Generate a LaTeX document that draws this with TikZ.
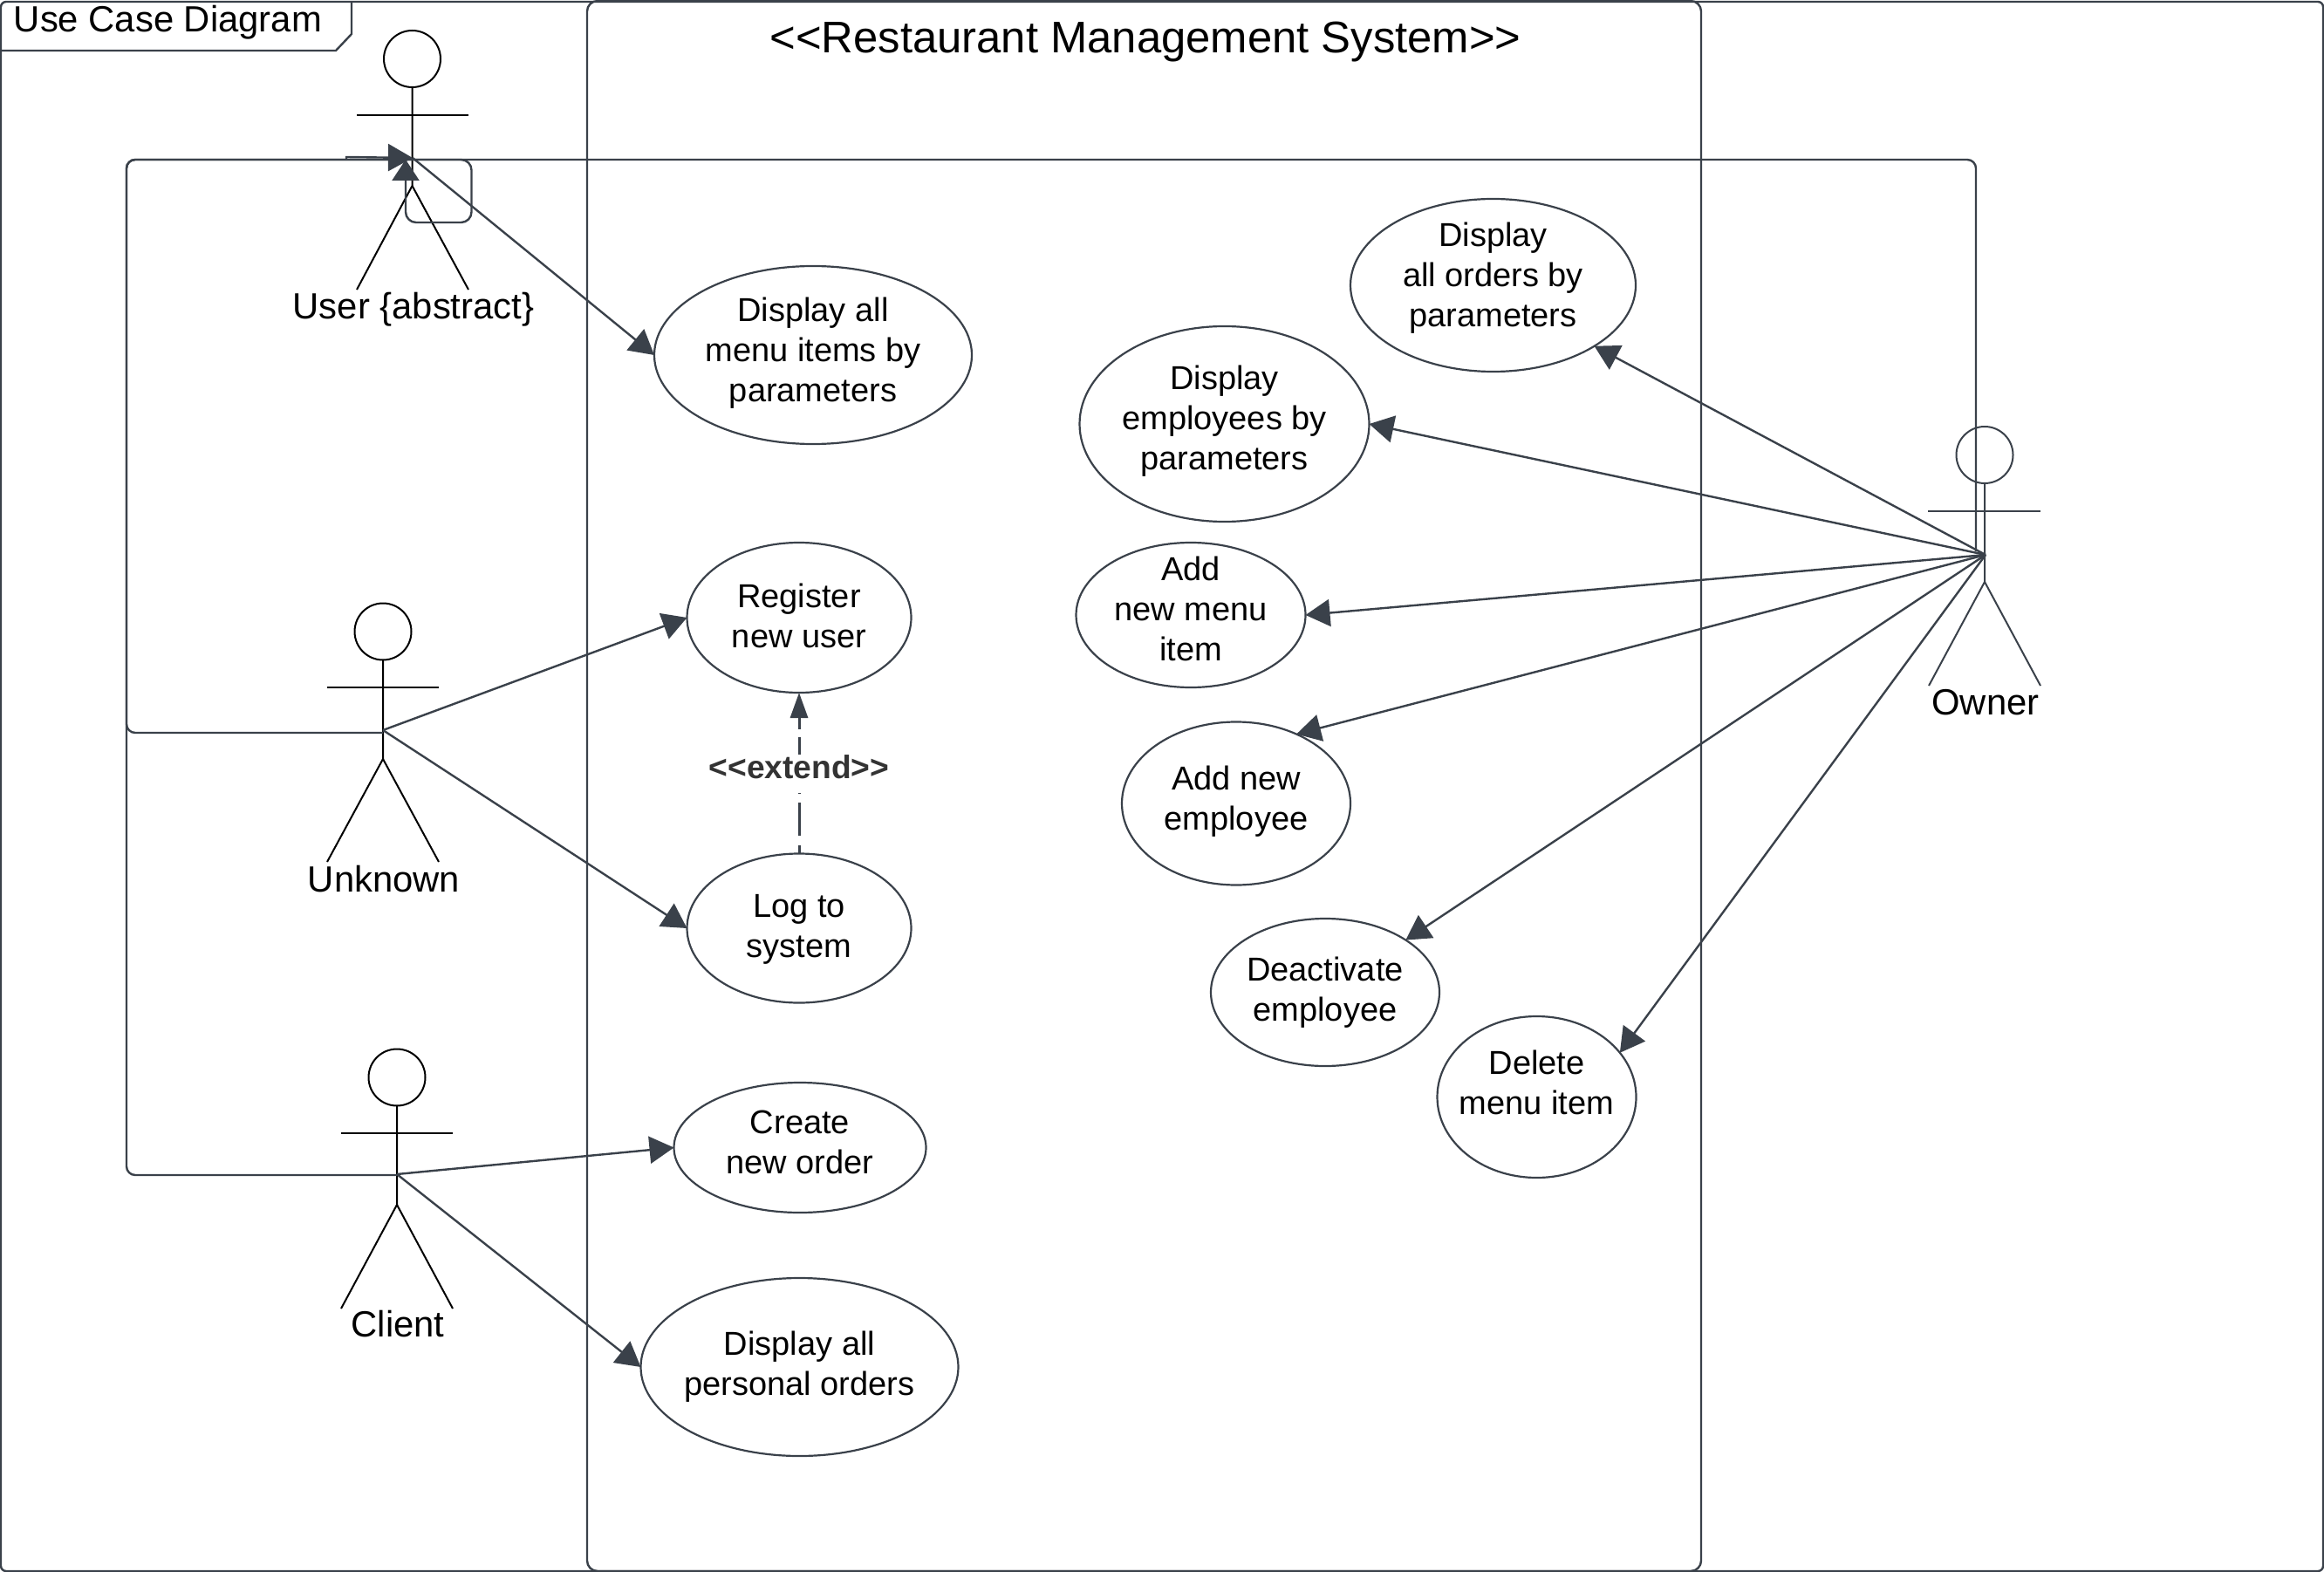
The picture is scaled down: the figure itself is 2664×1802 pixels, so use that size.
\documentclass[tikz,border=0pt]{standalone}
\usepackage{fontspec}
\setmainfont{Liberation Sans}
\usetikzlibrary{arrows.meta,shapes.geometric}

\definecolor{linecol}{HTML}{3A414A}
\definecolor{extcol}{HTML}{333333}

\tikzset{
  frameline/.style={draw=linecol, line width=1.2pt},
  usecase/.style={ellipse, draw=linecol, line width=1.1pt, inner sep=0pt, outer sep=0pt},
  casetext/.style={align=center, inner sep=0pt, font=\fontsize{19}{23}\selectfont},
  head/.style={circle, draw, line width=1pt, minimum size=32.5pt, inner sep=0pt, outer sep=0pt},
  actor/.style={draw, line width=1pt},
  actorlabel/.style={font=\fontsize{20.9}{25}\selectfont, inner sep=0pt},
  wire/.style={draw=linecol, line width=1.2pt},
  routed/.style={wire, rounded corners=5pt},
  link/.style={wire, -{Triangle[length=14pt,width=15.5pt]}},
  extendlink/.style={wire, line width=1.5pt, -{Triangle[length=14.5pt,width=10pt]}}
}

\begin{document}
\begin{tikzpicture}[x=0.5pt,y=-0.5pt]
  \useasboundingbox (0,0) rectangle (2664,1802);

  % frames
  \draw[frameline, rounded corners=3pt] (1,2) rectangle (2663,1801);
  \draw[frameline] (1,58) -- (385,58) -- (403,39) -- (403,2);
  \node[anchor=west, inner sep=0pt, font=\fontsize{20.9}{25}\selectfont] (frametitle) at (15.5,26) {Use Case Diagram};
  \draw[frameline, rounded corners=6pt] (673,1) rectangle (1950,1801);
  \node[font=\fontsize{25.4}{30}\selectfont, inner sep=0pt] (systemtitle) at (1313,48) {<{}<Restaurant Management System>{}>};

  % actors
  \node[head] (userhead) at (472.5,67.5) {};
  \draw[actor] (userhead.south) -- (472.5,213) -- (409,332);
  \draw[actor] (472.5,213) -- (537,332);
  \draw[actor] (409,132) -- (537,132);
  \node[actorlabel] (userlabel) at (474,355) {User \{abstract\}};

  \node[head] (unknownhead) at (439,724) {};
  \draw[actor] (unknownhead.south) -- (439,870) -- (375,988);
  \draw[actor] (439,870) -- (503,988);
  \draw[actor] (375,788) -- (503,788);
  \node[actorlabel] (unknownlabel) at (440,1008) {Unknown};

  \node[head] (clienthead) at (455,1235) {};
  \draw[actor] (clienthead.south) -- (455,1381) -- (391,1500);
  \draw[actor] (455,1381) -- (519,1500);
  \draw[actor] (391,1299) -- (519,1299);
  \node[actorlabel] (clientlabel) at (456,1518) {Client};

  \node[head, draw=linecol] (ownerhead) at (2275,521.5) {};
  \draw[actor, draw=linecol] (ownerhead.south) -- (2275,667) -- (2211,786);
  \draw[actor, draw=linecol] (2275,667) -- (2339,786);
  \draw[actor, draw=linecol] (2210,586) -- (2339,586);
  \node[actorlabel] (ownerlabel) at (2276,805) {Owner};

  \coordinate (userhub) at (473,181);
  \coordinate (userbase) at (465,183);
  \coordinate (userjoin) at (473,183);
  \coordinate (userstep) at (397,183);
  \coordinate (unknownhub) at (439,837);
  \coordinate (unknownbase) at (439,840);
  \coordinate (clienthub) at (455,1346);
  \coordinate (clientbase) at (455,1347);
  \coordinate (ownerhub) at (2276,636);
  \coordinate (ownerbase) at (2265,632);

  % use cases
  \node[usecase, minimum width=182pt, minimum height=102pt, label={[casetext,yshift=1pt]center:Display all\\menu items by\\parameters}] (menuitems) at (932,407) {};
  \node[usecase, minimum width=128.5pt, minimum height=86pt, label={[casetext,yshift=.8pt]center:Register\\new user}] (register) at (916,708) {};
  \node[usecase, minimum width=128.5pt, minimum height=85.5pt, label={[casetext,yshift=-.9pt]center:Log to\\system}] (login) at (916,1064) {};
  \node[usecase, minimum width=144.5pt, minimum height=74.5pt, label={[casetext,yshift=2.9pt]center:Create\\new order}] (neworder) at (917,1315.5) {};
  \node[usecase, minimum width=182pt, minimum height=102pt, label={[casetext]center:Display all\\personal orders}] (personal) at (916.5,1567) {};
  \node[usecase, minimum width=163.5pt, minimum height=99pt, label={[casetext,yshift=4.2pt]center:Display\\all orders by\\parameters}] (orders) at (1711.5,327) {};
  \node[usecase, minimum width=166pt, minimum height=112pt, label={[casetext,yshift=1.7pt]center:Display\\employees by\\parameters}] (employees) at (1403.5,486) {};
  \node[usecase, minimum width=131.5pt, minimum height=83pt, label={[casetext,yshift=3.6pt]center:Add\\new menu\\item}] (addmenu) at (1365,705) {};
  \node[usecase, minimum width=131pt, minimum height=93.5pt, label={[casetext,yshift=1.3pt]center:Add new\\employee}] (addemployee) at (1417,921) {};
  \node[usecase, minimum width=131pt, minimum height=84.5pt, label={[casetext]center:Deactivate\\employee}] (deactivate) at (1519,1137.5) {};
  \node[usecase, minimum width=114pt, minimum height=92.5pt, label={[casetext,yshift=8.5pt]center:Delete\\menu item}] (deleteitem) at (1761.5,1257.5) {};

  % generalization
  \draw[routed] (unknownbase) -- (145,840) -- (145,183) -- (userjoin);
  \draw[routed] (clientbase) -- (145,1347) -- (145,183) -- (userjoin);
  \draw[routed] (ownerbase) -- (2265,183) -- (userjoin);
  \draw[link] (userstep) -- (397,180) -- (userhub);
  \draw[routed, rounded corners=6pt, -{Triangle[length=12pt,width=15.5pt]}] (userjoin) -- (540.5,183) -- (540.5,255) -- (465,255) -- (userbase);

  % associations
  \draw[link] (userhub) -- (menuitems.west);
  \draw[link] (unknownhub) -- (register.west);
  \draw[link] (unknownhub) -- (login.west);
  \draw[link] (clienthub) -- (neworder.west);
  \draw[link] (clienthub) -- (personal.west);
  \draw[link] (ownerhub) -- (orders.-31);
  \draw[link] (ownerhub) -- (employees.east);
  \draw[link] (ownerhub) -- (addmenu.east);
  \draw[link] (ownerhub) -- (addemployee.49);
  \draw[link] (ownerhub) -- (deactivate.33);
  \draw[link] (ownerhub) -- (deleteitem.28);

  % extend
  \draw[extendlink, dash pattern=on 5pt off 5.5pt on 19pt off 5pt on .5pt off 22pt on 10pt off 4.5pt on 100pt] (login.north) -- (register.south)
    node [midway, yshift=3.4pt, inner sep=0pt, text=extcol, font=\bfseries\fontsize{18.6}{22}\selectfont] (extendlabel) {<{}<extend>{}>};
\end{tikzpicture}
\end{document}
